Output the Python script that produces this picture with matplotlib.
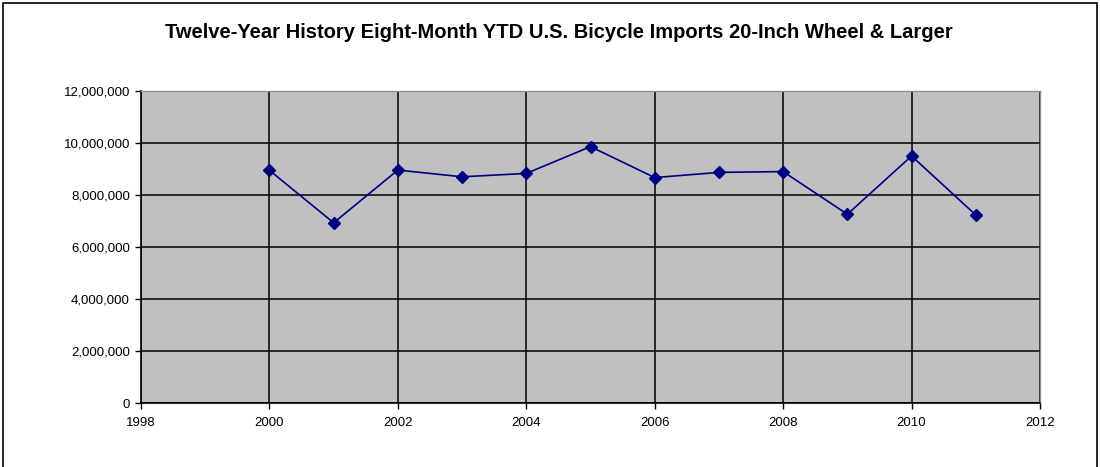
import numpy as np
import matplotlib
matplotlib.use("Agg")
import matplotlib.pyplot as plt
from matplotlib.patches import Rectangle
from matplotlib.ticker import FuncFormatter

# eight-month YTD imports
years = [2000, 2001, 2002, 2003, 2004, 2005, 2006, 2007, 2008, 2009, 2010, 2011]
imports = [8950000, 6930000, 8960000, 8700000, 8830000, 9860000,
           8670000, 8870000, 8900000, 7260000, 9500000, 7230000]
x_ticks = [1998, 2000, 2002, 2004, 2006, 2008, 2010, 2012]
y_ticks = [0, 2000000, 4000000, 6000000, 8000000, 10000000, 12000000]

title = "Twelve-Year History Eight-Month YTD U.S. Bicycle Imports 20-Inch Wheel & Larger"

plt.rcParams['font.family'] = ['Liberation Sans', 'DejaVu Sans']

fig = plt.figure(figsize=(11, 4.67), dpi=100)
ax = fig.add_axes([141/1100, 1 - 403/467, (1040 - 141)/1100, (403 - 91)/467])

ax.set_facecolor('#c0c0c0')
ax.plot(years, imports, color='#000080', lw=1.2, marker='D', ms=6,
        markerfacecolor='#000080', markeredgecolor='#000080', zorder=3)

ax.set_xlim(1998, 2012)
ax.set_ylim(0, 12000000)
ax.set_xticks(x_ticks)
ax.set_yticks(y_ticks)
ax.yaxis.set_major_formatter(FuncFormatter(lambda v, p: f"{int(v):,}"))
ax.grid(True, color='black', lw=1.1, zorder=1)
ax.set_axisbelow(True)
ax.tick_params(axis='both', labelsize=9.5, length=4, width=1, direction='out', color='black')
ax.tick_params(axis='x', pad=6)
ax.tick_params(axis='y', pad=4)

for s in ['top', 'right']:
    ax.spines[s].set_color('#909090')
    ax.spines[s].set_linewidth(1)
for s in ['left', 'bottom']:
    ax.spines[s].set_color('black')
    ax.spines[s].set_linewidth(1.2)

fig.text(0.508, 1 - 33/467, title, ha='center', va='center',
         fontsize=14.5, fontweight='bold')

# outer chart frame
fig.patches.append(Rectangle((3/1100, -0.05), 1094/1100, 1 - 3/467 + 0.05,
                             transform=fig.transFigure, fill=False,
                             edgecolor='black', lw=1.2))

fig.savefig("out.png", dpi=100)
